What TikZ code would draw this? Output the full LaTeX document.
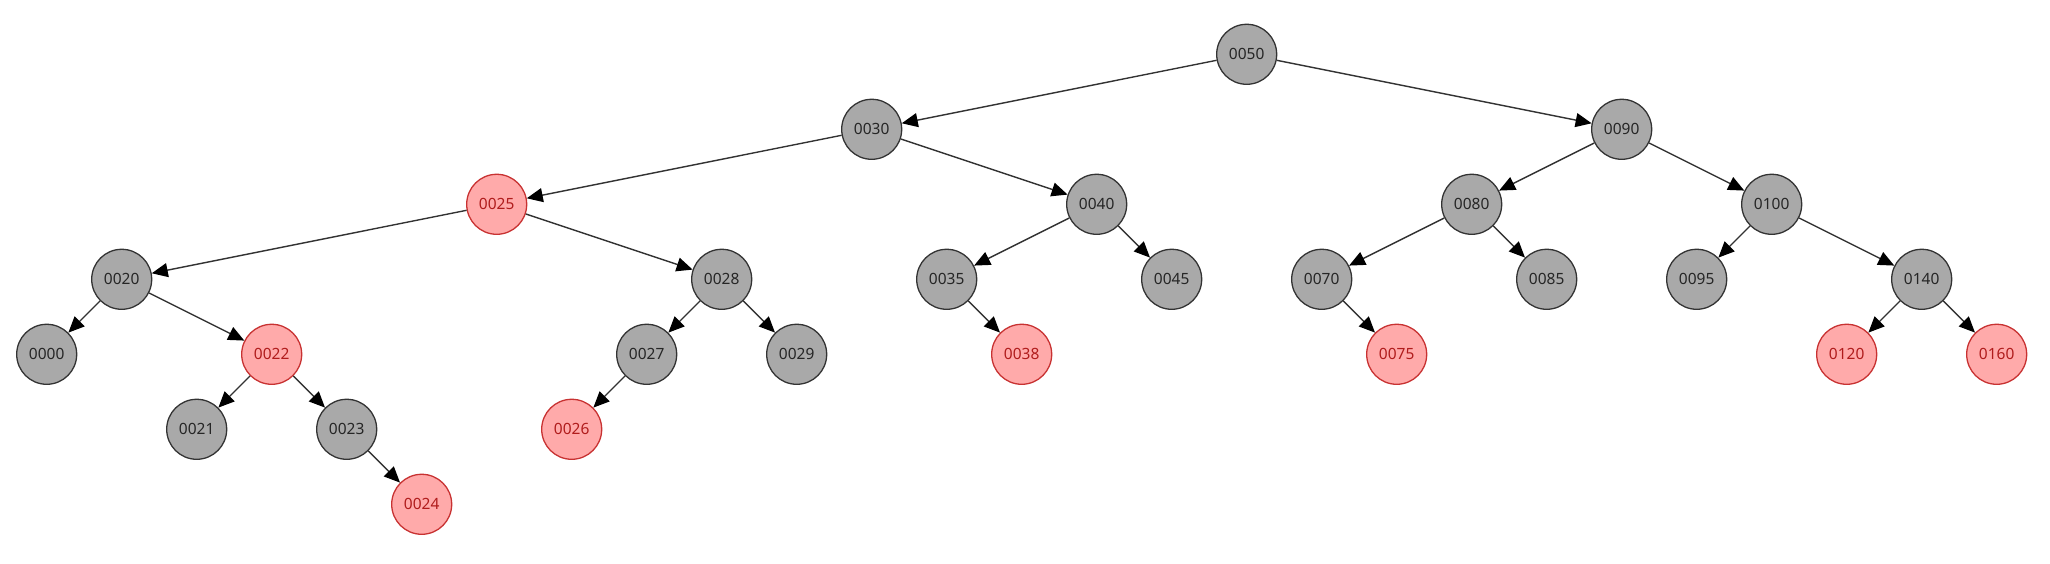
\documentclass[tikz,border=0pt]{standalone}
\usepackage{fontspec}
\setmainfont{Noto Sans}
\usepackage{tikz}
\usetikzlibrary{arrows.meta}
\definecolor{treegray}{HTML}{A9A9A9}
\definecolor{treeline}{HTML}{333333}
\definecolor{treepink}{HTML}{FFAAAA}
\definecolor{treered}{HTML}{C83232}
\definecolor{treetext}{HTML}{B01C1C}
\begin{document}
\begin{tikzpicture}[x=75pt,y=-75pt,
blacks/.style={circle,draw=treeline,line width=1.3pt,fill=treegray,text=black!85,minimum size=60pt,inner sep=0pt,font=\fontsize{15.5}{18}\selectfont},
reds/.style={circle,draw=treered,line width=1.3pt,fill=treepink,text=treetext,minimum size=60pt,inner sep=0pt,font=\fontsize{15.5}{18}\selectfont},
edge/.style={draw=treeline,line width=1.4pt,-{Triangle[length=16pt,width=14pt,color=black]}}]
\useasboundingbox (-0.6227,-0.724) rectangle (26.711,6.796);
\foreach \k/\i/\l in {0000/0/4,0020/1/3,0021/2/5,0023/4/5,0027/8/4,0028/9/3,0029/10/4,0030/11/1,0035/12/3,0040/14/2,0045/15/3,0050/16/0,0070/17/3,0080/19/2,0085/20/3,0090/21/1,0095/22/3,0100/23/2,0140/25/3}
    \node [blacks] (n\k) at (\i,\l) {\k};
\foreach \k/\i/\l in {0022/3/4,0024/5/6,0025/6/2,0026/7/5,0038/13/4,0075/18/4,0120/24/4,0160/26/4}
    \node [reds] (n\k) at (\i,\l) {\k};

\foreach \a/\b in {0050/0030,0050/0090,0030/0025,0030/0040,0025/0020,0025/0028,0020/0000,0020/0022,0022/0021,0022/0023,0023/0024,0028/0027,0028/0029,0027/0026,0040/0035,0040/0045,0035/0038,0090/0080,0090/0100,0080/0070,0080/0085,0070/0075,0100/0095,0100/0140,0140/0120,0140/0160}
    \draw [edge] (n\a)--(n\b);
\end{tikzpicture}
\end{document}
